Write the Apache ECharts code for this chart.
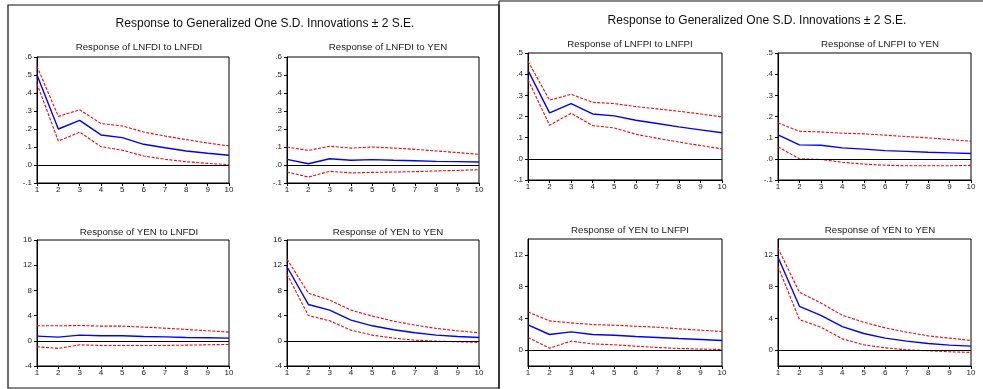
<!DOCTYPE html>
<html>
<head>
<meta charset="utf-8">
<script src="https://cdn.jsdelivr.net/npm/echarts@6/dist/echarts.min.js"></script>
<style>
  html, body { margin: 0; padding: 0; background: #fff; }
  #chart { width: 983px; height: 389px; }
</style>
</head>
<body>
<div id="chart"></div>
<script>
const periods = ["1", "2", "3", "4", "5", "6", "7", "8", "9", "10"];

// left block: LNFDI / YEN
const fdiToFdi = [0.5, 0.2, 0.248, 0.167, 0.152, 0.115, 0.096, 0.078, 0.065, 0.054];
const fdiToFdiUp = [0.548, 0.27, 0.307, 0.23, 0.217, 0.183, 0.161, 0.141, 0.122, 0.106];
const fdiToFdiLo = [0.452, 0.133, 0.183, 0.102, 0.082, 0.05, 0.032, 0.018, 0.009, 0.002];

const fdiToYen = [0.031, 0.007, 0.035, 0.026, 0.03, 0.026, 0.024, 0.02, 0.019, 0.017];
const fdiToYenUp = [0.1, 0.081, 0.104, 0.094, 0.1, 0.094, 0.087, 0.078, 0.069, 0.059];
const fdiToYenLo = [-0.039, -0.067, -0.035, -0.044, -0.041, -0.039, -0.037, -0.033, -0.03, -0.026];

const yenToFdi = [0.74, 0.58, 0.9, 0.8, 0.8, 0.69, 0.63, 0.53, 0.48, 0.42];
const yenToFdiUp = [2.38, 2.38, 2.43, 2.33, 2.33, 2.17, 2.0, 1.8, 1.59, 1.38];
const yenToFdiLo = [-0.95, -1.2, -0.63, -0.74, -0.74, -0.74, -0.74, -0.69, -0.63, -0.58];

const yenToYenA = [11.75, 5.77, 4.87, 3.28, 2.38, 1.75, 1.27, 0.9, 0.69, 0.53];
const yenToYenAUp = [12.96, 7.57, 6.46, 4.87, 3.92, 3.12, 2.49, 1.96, 1.59, 1.27];
const yenToYenALo = [10.58, 4.02, 3.17, 1.69, 0.9, 0.42, 0.1, -0.05, -0.16, -0.26];

// right block: LNFPI / YEN
const fpiToFpi = [0.418, 0.217, 0.261, 0.212, 0.203, 0.182, 0.167, 0.151, 0.137, 0.123];
const fpiToFpiUp = [0.461, 0.277, 0.305, 0.267, 0.261, 0.247, 0.236, 0.225, 0.212, 0.198];
const fpiToFpiLo = [0.374, 0.159, 0.215, 0.157, 0.146, 0.116, 0.097, 0.079, 0.063, 0.047];

const fpiToYen = [0.113, 0.066, 0.064, 0.052, 0.046, 0.039, 0.035, 0.031, 0.028, 0.025];
const fpiToYenUp = [0.17, 0.13, 0.127, 0.121, 0.118, 0.112, 0.105, 0.099, 0.091, 0.083];
const fpiToYenLo = [0.057, 0.0, -0.003, -0.016, -0.025, -0.03, -0.033, -0.033, -0.033, -0.031];

const yenToFpi = [3.18, 1.97, 2.3, 1.97, 1.88, 1.72, 1.59, 1.46, 1.34, 1.21];
const yenToFpiUp = [4.81, 3.68, 3.43, 3.22, 3.14, 3.01, 2.89, 2.68, 2.51, 2.34];
const yenToFpiLo = [1.59, 0.25, 1.13, 0.79, 0.67, 0.5, 0.33, 0.21, 0.13, 0.08];

const yenToYenB = [11.7, 5.52, 4.39, 2.97, 2.09, 1.51, 1.13, 0.84, 0.63, 0.5];
const yenToYenBUp = [12.85, 7.28, 5.94, 4.39, 3.51, 2.8, 2.26, 1.8, 1.51, 1.21];
const yenToYenBLo = [10.54, 3.85, 2.89, 1.42, 0.67, 0.29, 0.04, -0.08, -0.21, -0.29];

const mainTitle = "Response to Generalized One S.D. Innovations \u00b1 2 S.E.";

const panels = [
  { title: "Response of LNFDI to LNFDI", mid: fdiToFdi, up: fdiToFdiUp, lo: fdiToFdiLo, grid: [37, 57, 192, 126], tx: 134, ty: 37, scale: "small6" },
  { title: "Response of LNFDI to YEN", mid: fdiToYen, up: fdiToYenUp, lo: fdiToYenLo, grid: [287, 57, 192, 126], tx: 383, ty: 37, scale: "small6" },
  { title: "Response of YEN to LNFDI", mid: yenToFdi, up: yenToFdiUp, lo: yenToFdiLo, grid: [37, 240, 192, 126], tx: 134, ty: 222, scale: "big16" },
  { title: "Response of YEN to YEN", mid: yenToYenA, up: yenToYenAUp, lo: yenToYenALo, grid: [287, 240, 192, 126], tx: 383, ty: 222, scale: "big16" },
  { title: "Response of LNFPI to LNFPI", mid: fpiToFpi, up: fpiToFpiUp, lo: fpiToFpiLo, grid: [528, 53, 194, 127], tx: 625, ty: 34, scale: "small5" },
  { title: "Response of LNFPI to YEN", mid: fpiToYen, up: fpiToYenUp, lo: fpiToYenLo, grid: [778, 53, 193, 127], tx: 875, ty: 34, scale: "small5" },
  { title: "Response of YEN to LNFPI", mid: yenToFpi, up: yenToFpiUp, lo: yenToFpiLo, grid: [528, 239, 194, 127], tx: 625, ty: 220, scale: "big14" },
  { title: "Response of YEN to YEN", mid: yenToYenB, up: yenToYenBUp, lo: yenToYenBLo, grid: [778, 239, 193, 127], tx: 875, ty: 220, scale: "big14" },
];

const fontFamily = "Liberation Sans, Arial, sans-serif";

const decimalLabel = (v) => {
  const s = Number(v).toFixed(1);
  return s.replace(/^(-?)0\./, "$1.");
};

const yAxisFor = (scale, i) => {
  const base = {
    type: "value",
    gridIndex: i,
    splitLine: { show: false },
    axisLine: { show: true, lineStyle: { color: "#000", width: 1 } },
    axisTick: { show: true, length: 3, lineStyle: { color: "#000" } },
    axisLabel: { fontSize: 8, color: "#222", margin: 5, fontFamily },
  };
  if (scale === "small6") {
    return { ...base, min: -0.1, max: 0.6, interval: 0.1, axisLabel: { ...base.axisLabel, formatter: decimalLabel } };
  }
  if (scale === "small5") {
    return { ...base, min: -0.1, max: 0.5, interval: 0.1, axisLabel: { ...base.axisLabel, formatter: decimalLabel } };
  }
  if (scale === "big16") {
    return { ...base, min: -4, max: 16, interval: 4 };
  }
  return {
    ...base,
    min: -2,
    max: 14,
    axisTick: { ...base.axisTick, customValues: [0, 4, 8, 12] },
    axisLabel: { ...base.axisLabel, customValues: [0, 4, 8, 12] },
  };
};

const option = {
  animation: false,
  backgroundColor: "#fff",
  title: [
    { text: mainTitle, left: 260, top: 13, textAlign: "center", textStyle: { fontSize: 12, fontWeight: "normal", color: "#111", fontFamily } },
    { text: mainTitle, left: 752, top: 10, textAlign: "center", textStyle: { fontSize: 12, fontWeight: "normal", color: "#111", fontFamily } },
    ...panels.map((p) => ({
      text: p.title,
      left: p.tx,
      top: p.ty,
      textAlign: "center",
      textStyle: { fontSize: 9.7, fontWeight: "normal", color: "#222", fontFamily },
    })),
  ],
  grid: panels.map((p) => ({
    left: p.grid[0],
    top: p.grid[1],
    width: p.grid[2],
    height: p.grid[3],
    show: true,
    borderColor: "#000",
    borderWidth: 1,
    backgroundColor: "transparent",
  })),
  xAxis: panels.map((p, i) => ({
    type: "category",
    gridIndex: i,
    data: periods,
    boundaryGap: false,
    axisLine: { show: true, onZero: false, lineStyle: { color: "#000" } },
    axisTick: { show: true, length: 3, alignWithLabel: true, lineStyle: { color: "#000" } },
    axisLabel: { fontSize: 8, color: "#222", margin: 3, fontFamily, interval: 0 },
    splitLine: { show: false },
  })),
  yAxis: panels.map((p, i) => yAxisFor(p.scale, i)),
  series: panels.flatMap((p, i) => [
    {
      type: "line",
      xAxisIndex: i,
      yAxisIndex: i,
      data: p.mid,
      symbol: "none",
      lineStyle: { color: "#0000ff", width: 1.4 },
      markLine: {
        silent: true,
        symbol: ["none", "none"],
        label: { show: false },
        lineStyle: { color: "#000", width: 1, type: "solid" },
        data: [{ yAxis: 0 }],
      },
      z: 3,
    },
    {
      type: "line",
      xAxisIndex: i,
      yAxisIndex: i,
      data: p.up,
      symbol: "none",
      lineStyle: { color: "#ff0000", width: 1.1, type: [3, 1.5] },
    },
    {
      type: "line",
      xAxisIndex: i,
      yAxisIndex: i,
      data: p.lo,
      symbol: "none",
      lineStyle: { color: "#ff0000", width: 1.1, type: [3, 1.5] },
    },
  ]),
  graphic: [
    { type: "rect", shape: { x: 8, y: 5, width: 491, height: 383 }, style: { fill: "none", stroke: "#111", lineWidth: 1.2 }, silent: true },
    { type: "line", shape: { x1: 499, y1: 1, x2: 983, y2: 1 }, style: { stroke: "#111", lineWidth: 1.2 }, silent: true },
    { type: "line", shape: { x1: 499, y1: 1, x2: 499, y2: 389 }, style: { stroke: "#111", lineWidth: 1.2 }, silent: true },
  ],
};

const chart = echarts.init(document.getElementById("chart"));
chart.setOption(option);
</script>
</body>
</html>
